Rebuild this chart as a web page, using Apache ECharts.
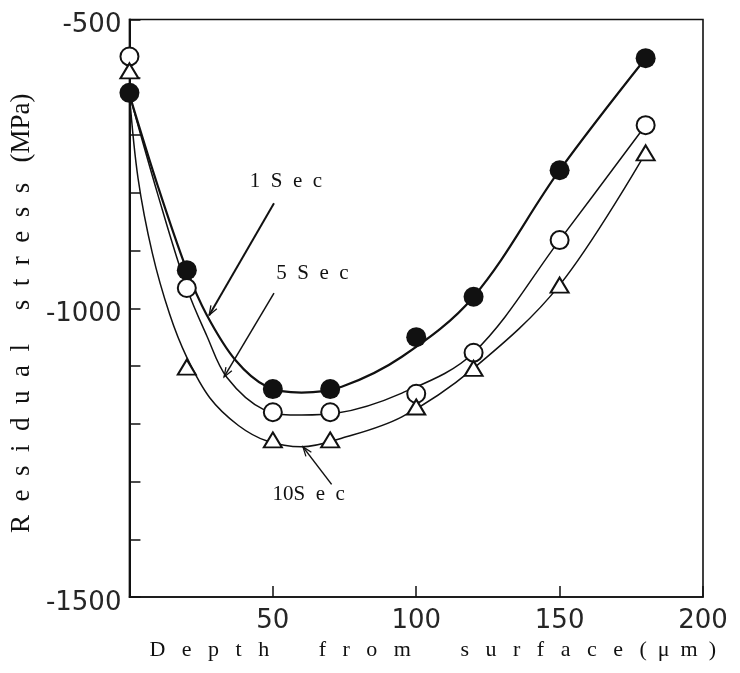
<!DOCTYPE html>
<html>
<head>
<meta charset="utf-8">
<script src="https://cdn.jsdelivr.net/npm/echarts@6/dist/echarts.min.js"></script>
<style>
html,body{margin:0;padding:0;background:#fff;}
#chart{width:740px;height:673px;}
</style>
</head>
<body>
<div id="chart"></div>
<script>
// ---- measured points (depth in um, residual stress in MPa) ----
const depth = [0, 20, 50, 70, 100, 120, 150, 180];
const stress1s = [-627, -934, -1140, -1140, -1050, -980, -761, -567];
const stress5s = [-564, -965, -1180, -1180, -1148, -1077, -882, -683];
const stress10s = [-589, -1102, -1228, -1228, -1171, -1104, -960, -731];

// ---- fitted curves ----
const fit1sX = [0, 10, 20, 27, 37, 48, 60, 74, 95, 120, 150, 180];
const fit1sY = [-630, -790, -934, -1012, -1090, -1136, -1146, -1136, -1084, -980, -761, -567];
const fit5sX = [0, 10, 20, 27, 34, 47, 60, 72, 95, 120, 150, 180];
const fit5sY = [-630, -805, -965, -1048, -1120, -1176, -1185, -1182, -1147, -1077, -882, -683];
const fit10sX = [0, 3, 8, 14, 20, 28, 38, 48, 60, 74, 95, 120, 150, 180];
const fit10sY = [-630, -775, -905, -1010, -1085, -1155, -1203, -1230, -1240, -1225, -1188, -1104, -960, -731];

// ---- axis ticks / labels ----
const xTicks = [0, 50, 100, 150, 200];
const yTicks = [-1500, -1000, -500];

const seriesNames = ['1Sec', '5Sec', '10Sec'];

function pairs(xs, ys) { return xs.map((x, i) => [x, ys[i]]); }
function spaced(text, sep) { return text.split('').join(sep); }

const chart = echarts.init(document.getElementById('chart'), null, {renderer: 'canvas'});

const INK = '#111';
const tickFont = {fontFamily: 'DejaVu Sans', fontSize: 26, color: '#262626'};

const yTitle = spaced('Residual', '  ') + '     ' + spaced('stress', '  ') + '   (MPa)';
const xTitle = spaced('Depth', '\u2002 ') + '\u2003\u2003 ' + spaced('from', '\u2002 ') +
  '\u2003\u2003 ' + spaced('surface', '\u2002 ') + '\u2002 ' + spaced('(\u03bcm)', '\u2002');

const option = {
  animation: false,
  backgroundColor: '#fff',
  grid: {left: 126.5, top: 19.5, right: 37, bottom: 76, show: true, borderColor: INK, borderWidth: 1.6, backgroundColor: 'transparent'},
  xAxis: {
    type: 'value', min: xTicks[0], max: xTicks[xTicks.length - 1], interval: 50,
    axisLine: {show: true, onZero: false, lineStyle: {color: INK, width: 1.6}},
    axisTick: {show: true, inside: true, length: 11, lineStyle: {color: INK, width: 1.5}},
    axisLabel: {...tickFont, margin: 11, formatter: v => (v === xTicks[0] ? '' : String(v))},
    splitLine: {show: false},
    name: xTitle, nameLocation: 'middle', nameGap: 40,
    nameTextStyle: {fontFamily: 'Liberation Serif', fontSize: 22, color: INK, padding: [0, 0, 0, 33]}
  },
  yAxis: {
    type: 'value', min: yTicks[0], max: yTicks[yTicks.length - 1], interval: 500,
    axisLine: {show: true, onZero: false, lineStyle: {color: INK, width: 2}},
    axisTick: {show: true, inside: true, length: 11, lineStyle: {color: INK, width: 1.5}},
    minorTick: {show: true, splitNumber: 5, length: 11, lineStyle: {color: INK, width: 1.5}},
    axisLabel: {...tickFont, margin: 8,
      formatter: v => (yTicks.includes(v) ? '{t|' + v + '}' : ''),
      rich: {t: {...tickFont, padding: [12, 0, 0, 0]}}},
    splitLine: {show: false},
    name: yTitle, nameLocation: 'middle', nameGap: 90, nameRotate: 90,
    nameTextStyle: {fontFamily: 'Liberation Serif', fontSize: 27, color: INK, padding: [0, 10, 0, 0]}
  },
  series: [
    {name: seriesNames[0] + ' fit', type: 'line', data: pairs(fit1sX, fit1sY), smooth: 0.35,
      showSymbol: false, lineStyle: {color: INK, width: 2.2}, z: 2},
    {name: seriesNames[1] + ' fit', type: 'line', data: pairs(fit5sX, fit5sY), smooth: 0.35,
      showSymbol: false, lineStyle: {color: INK, width: 1.5}, z: 2},
    {name: seriesNames[2] + ' fit', type: 'line', data: pairs(fit10sX, fit10sY), smooth: 0.35,
      showSymbol: false, lineStyle: {color: INK, width: 1.5}, z: 2},
    {name: seriesNames[0], type: 'scatter', data: pairs(depth, stress1s), symbol: 'circle', symbolSize: 20,
      itemStyle: {color: INK, opacity: 1}, z: 5},
    {name: seriesNames[1], type: 'scatter', data: pairs(depth, stress5s), symbol: 'circle', symbolSize: 18,
      itemStyle: {color: '#fff', borderColor: INK, borderWidth: 2, opacity: 1}, z: 5},
    {name: seriesNames[2], type: 'scatter', data: pairs(depth, stress10s), symbol: 'triangle', symbolSize: [18, 15],
      itemStyle: {color: '#fff', borderColor: INK, borderWidth: 2, opacity: 1}, z: 5}
  ]
};
chart.setOption(option);

// ---- annotations (leaders with open arrow heads) in data coordinates ----
const annotations = [
  {text: spaced('1Sec', '\u2002'), at: [54.6, -781], from: [50.4, -818], to: [27.8, -1012], width: 2},
  {text: spaced('5Sec', '\u2002'), at: [63.8, -939], from: [50.4, -974], to: [33.0, -1119], width: 1.5},
  {text: '10' + spaced('Sec', '\u2002'), at: [62.5, -1322], from: [70.5, -1305], to: [60.5, -1240], width: 1.5}
];

const graphics = [];
annotations.forEach(a => {
  const p = chart.convertToPixel({gridIndex: 0}, a.at);
  const p0 = chart.convertToPixel({gridIndex: 0}, a.from);
  const p1 = chart.convertToPixel({gridIndex: 0}, a.to);
  graphics.push({type: 'text', x: p[0], y: p[1], z: 10,
    style: {text: a.text, fontFamily: 'Liberation Serif', fontSize: 21, fill: INK, align: 'center', verticalAlign: 'middle'}});
  graphics.push({type: 'line', z: 10, shape: {x1: p0[0], y1: p0[1], x2: p1[0], y2: p1[1]},
    style: {stroke: INK, lineWidth: a.width}});
  const ang = Math.atan2(p0[1] - p1[1], p0[0] - p1[0]);
  const L = 10, spread = 0.35;
  graphics.push({type: 'polyline', z: 10, shape: {points: [
      [p1[0] + L * Math.cos(ang + spread), p1[1] + L * Math.sin(ang + spread)],
      [p1[0], p1[1]],
      [p1[0] + L * Math.cos(ang - spread), p1[1] + L * Math.sin(ang - spread)]]},
    style: {stroke: INK, lineWidth: 1.3, fill: null}});
});
chart.setOption({graphic: graphics});
</script>
</body>
</html>
